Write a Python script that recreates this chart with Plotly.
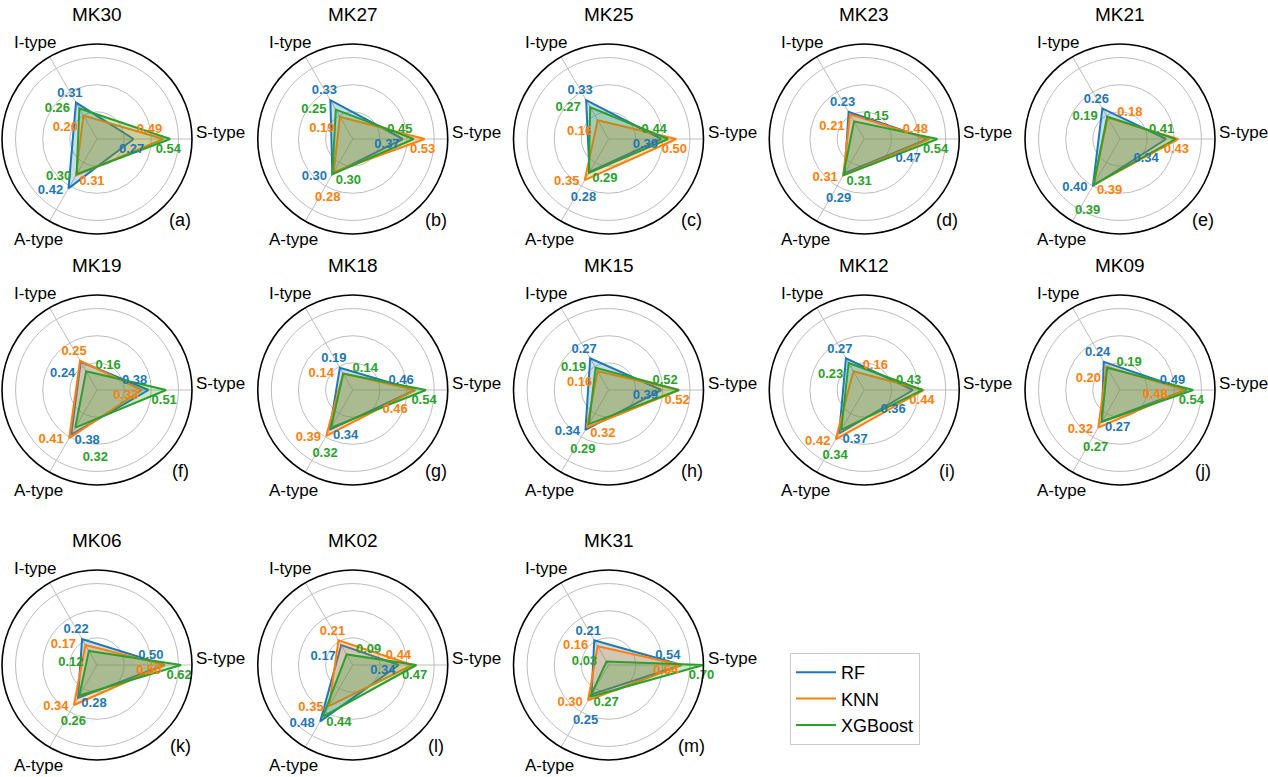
import math
import plotly.graph_objects as go

# ---------------- data ----------------
charts = ["MK30", "MK27", "MK25", "MK23", "MK21",
          "MK19", "MK18", "MK15", "MK12", "MK09",
          "MK06", "MK02", "MK31"]
letters = ["(a)", "(b)", "(c)", "(d)", "(e)", "(f)", "(g)", "(h)", "(i)", "(j)", "(k)", "(l)", "(m)"]
axis_labels = ["S-type", "I-type", "A-type"]
models = ["RF", "KNN", "XGBoost"]

# values per chart: [S-type, I-type, A-type]
rf_values = [
    [0.27, 0.31, 0.42], [0.37, 0.33, 0.30], [0.39, 0.33, 0.28], [0.47, 0.23, 0.29], [0.34, 0.26, 0.40],
    [0.38, 0.24, 0.38], [0.46, 0.19, 0.34], [0.39, 0.27, 0.34], [0.36, 0.27, 0.37], [0.49, 0.24, 0.27],
    [0.50, 0.22, 0.28], [0.34, 0.17, 0.48], [0.54, 0.21, 0.25],
]
knn_values = [
    [0.49, 0.20, 0.31], [0.53, 0.19, 0.28], [0.50, 0.16, 0.35], [0.48, 0.21, 0.31], [0.43, 0.18, 0.39],
    [0.33, 0.25, 0.41], [0.46, 0.14, 0.39], [0.52, 0.16, 0.32], [0.44, 0.16, 0.42], [0.48, 0.20, 0.32],
    [0.50, 0.17, 0.34], [0.44, 0.21, 0.35], [0.54, 0.16, 0.30],
]
xgb_values = [
    [0.54, 0.26, 0.30], [0.45, 0.25, 0.30], [0.44, 0.27, 0.29], [0.54, 0.15, 0.31], [0.41, 0.19, 0.39],
    [0.51, 0.16, 0.32], [0.54, 0.14, 0.32], [0.52, 0.19, 0.29], [0.43, 0.23, 0.34], [0.54, 0.19, 0.27],
    [0.62, 0.12, 0.26], [0.47, 0.09, 0.44], [0.70, 0.03, 0.27],
]
model_values = {"RF": rf_values, "KNN": knn_values, "XGBoost": xgb_values}

# ---------------- style ----------------
colors = {"RF": "#1f77b4", "KNN": "#ff7f0e", "XGBoost": "#2ca02c"}
fills = {"RF": "rgba(31,119,180,0.25)", "KNN": "rgba(255,127,14,0.25)", "XGBoost": "rgba(44,160,44,0.25)"}
angles = [0, 120, 240]
RMAX = 0.7
FONT = "Liberation Sans, Arial, sans-serif"
W, H = 1268, 777
col_cx = [97 + 255.75 * c for c in range(5)]
row_cy = [139, 390, 665]
R = 95
LBL_W, LBL_H = 27, 14

# candidate label offsets (pixels from the data point, y downward) per axis
cands = {
    0: [(-2, 11), (-14, -9), (-16, 6), (-20, 20), (-4, 24), (6, -9), (-30, -9), (-30, 5),
        (10, 24), (-18, -22), (-34, 20)],
    1: [(-6, -9), (-22, 0), (-18, 12), (22, -5), (-20, 26), (-30, -14), (4, -22), (24, 10)],
    2: [(-18, 2), (16, 6), (-14, 15), (0, 17), (18, 18), (-6, 26), (20, 30), (-22, -12),
        (-32, 18), (-26, 30)],
}


def to_px(r, th):
    s = r / RMAX * R
    return s * math.cos(math.radians(th)), -s * math.sin(math.radians(th))


def to_polar(x, y):
    return math.hypot(x, y) / R * RMAX, math.degrees(math.atan2(-y, x))


def overlaps(a, b):
    return abs(a[0] - b[0]) < LBL_W and abs(a[1] - b[1]) < LBL_H


fig = go.Figure()
layout_polars = {}
annotations = []


def ann(text, x, y, xanchor="center", size=17):
    annotations.append(dict(text=text, x=x / W, y=1 - y / H, xref="paper", yref="paper",
                            showarrow=False, xanchor=xanchor, yanchor="middle",
                            font=dict(size=size, family=FONT, color="black")))


for i, name in enumerate(charts):
    sp = "polar" if i == 0 else f"polar{i + 1}"
    row, col = divmod(i, 5)
    cx, cy = col_cx[col], row_cy[row]
    dom_x = [(cx - R) / W, (cx + R) / W]
    dom_y = [1 - (cy + R) / H, 1 - (cy - R) / H]

    # place value labels with a simple collision-avoiding search
    placed = []
    label_pos = {m: [None, None, None] for m in models}
    for k in range(3):
        order = sorted(models, key=lambda m: -model_values[m][i][k])
        for m in order:
            px, py = to_px(model_values[m][i][k], angles[k])
            choice = None
            for dx, dy in cands[k]:
                box = (px + dx, py + dy)
                if not any(overlaps(box, b) for b in placed):
                    choice = box
                    break
            if choice is None:
                choice = (px + cands[k][0][0], py + cands[k][0][1])
            placed.append(choice)
            label_pos[m][k] = to_polar(*choice)

    for m in models:
        v = model_values[m][i]
        fig.add_trace(go.Scatterpolar(
            r=v + [v[0]], theta=angles + [angles[0]], mode="lines",
            fill="toself", fillcolor=fills[m],
            line=dict(color=colors[m], width=2),
            name=m, showlegend=False, subplot=sp, hoverinfo="skip"))
    for m in models:
        v = model_values[m][i]
        fig.add_trace(go.Scatterpolar(
            r=[p[0] for p in label_pos[m]], theta=[p[1] for p in label_pos[m]], mode="text",
            text=[f"{x:.2f}" for x in v], textposition="middle center", cliponaxis=False,
            textfont=dict(color=colors[m], size=13, family=FONT, weight="bold"),
            showlegend=False, subplot=sp, hoverinfo="skip"))

    layout_polars[sp] = dict(
        domain=dict(x=dom_x, y=dom_y),
        bgcolor="white",
        radialaxis=dict(range=[0, RMAX], tickvals=[0.2, 0.4, 0.6], showticklabels=False,
                        showline=False, ticks="", gridcolor="#bdbdbd", gridwidth=1.2),
        angularaxis=dict(thetaunit="degrees", rotation=0, direction="counterclockwise",
                         tickmode="array", tickvals=angles, ticktext=axis_labels,
                         showticklabels=False, ticks="", showline=True, linecolor="black",
                         linewidth=1.6, gridcolor="#bdbdbd", gridwidth=1.2),
    )
    # axis category labels
    ann(axis_labels[0], cx + 97, cy - 7, xanchor="left")
    ann(axis_labels[1], cx - 62, cy - 97)
    ann(axis_labels[2], cx - 59, cy + 100)
    # title and panel letter
    ann(name, cx, cy - 125, size=19)
    ann(letters[i], cx + 83, cy + 81, size=18)

# legend entries (line only)
for m in models:
    fig.add_trace(go.Scatterpolar(r=[None], theta=[None], mode="lines",
                                  line=dict(color=colors[m], width=2),
                                  name=m, showlegend=True, subplot="polar13"))

fig.update_layout(
    width=W, height=H,
    margin=dict(l=0, r=0, t=0, b=0),
    paper_bgcolor="white",
    font=dict(family=FONT, color="black"),
    showlegend=True,
    legend=dict(x=790 / W, y=1 - 653 / H, xanchor="left", yanchor="top",
                bordercolor="#cccccc", borderwidth=1, bgcolor="white",
                font=dict(size=18, family=FONT), itemwidth=40, tracegroupgap=0),
    annotations=annotations,
    **layout_polars,
)

fig.write_html("out.html", config={"displayModeBar": False},
               post_script="document.body.style.margin='0px';")
